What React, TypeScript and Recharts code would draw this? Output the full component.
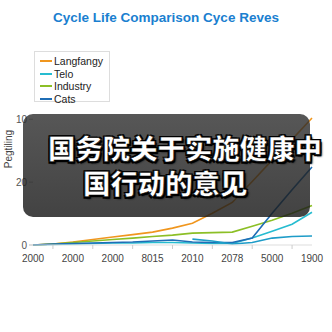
import { LineChart, Line, XAxis, YAxis, CartesianGrid } from "recharts";

// x categories (odd slots are unlabeled minor ticks)
const xLabels = [
  "2000", "", "2000", "", "2000", "", "8015", "",
  "2010", "", "2078", "", "5000", "", "1900",
];
const yTicks = [0, 10, 20];
const yTickLabels = ["0", "20", "10"];

const langfangy = [0, 0.16, 0.47, 0.87, 1.26, 1.65, 2.05, 2.68, 3.46, 5.04, 6.77, 10.1, 13.5, 16.8, 20.2];
const telo = [0, 0.08, 0.16, 0.24, 0.31, 0.31, 0.39, 0.39, 0.31, 0.24, 0.24, 1.1, 2.2, 3.3, 5.2];
const industry = [0, 0.16, 0.39, 0.63, 0.87, 1.1, 1.34, 1.57, 1.89, 1.97, 2.05, 2.99, 3.94, 5.04, 6.3];
const cats = [0, 0.16, 0.24, 0.31, 0.39, 0.47, 0.63, 0.79, 0.47, 0.39, 0.39, 1.1, 5.04, 8.8, 12.4];
const extra = [null, null, null, null, null, null, null, null, 0.94, 0.63, 0.16, 0.39, 1.1, 1.34, 1.42];

const series = [
  { key: "Langfangy", values: langfangy, color: "#f0961e" },
  { key: "Telo", values: telo, color: "#26bcd0" },
  { key: "Industry", values: industry, color: "#8cbf26" },
  { key: "Cats", values: cats, color: "#1f6db5" },
];

const data = xLabels.map((label, i) => {
  const row: any = { idx: i, label };
  series.forEach((s) => (row[s.key] = s.values[i]));
  row.Extra = extra[i];
  return row;
});

const XTick = (props: any) => {
  const { x, y, payload } = props;
  const label = xLabels[payload.index];
  if (!label) {
    return <line x1={x} y1={y - 8} x2={x} y2={y - 4} stroke="#ccc" />;
  }
  return (
    <text x={x} y={y} dy={9} textAnchor="middle" fontSize={10} fill="#444">
      {label}
    </text>
  );
};

const font = "'Liberation Sans', Arial, sans-serif";

export default function App() {
  return (
    <div
      style={{
        position: "absolute",
        left: 0,
        top: 0,
        width: 332,
        height: 332,
        background: "#fff",
        fontFamily: font,
      }}
    >
      <div
        style={{
          position: "absolute",
          top: 10,
          left: 0,
          width: 332,
          textAlign: "center",
          color: "#1a7fd0",
          fontWeight: "bold",
          fontSize: 13.5,
        }}
      >
        Cycle Life Comparison Cyce Reves
      </div>

      <LineChart
        width={332}
        height={332}
        data={data}
        margin={{ top: 118, right: 20, bottom: 57, left: 8 }}
      >
        <CartesianGrid horizontal={false} vertical={false} />
        <XAxis
          dataKey="idx"
          type="category"
          interval={0}
          height={30}
          tickLine={false}
          axisLine={{ stroke: "#ddd" }}
          tick={<XTick />}
        />
        <YAxis
          type="number"
          domain={[0, 20]}
          ticks={yTicks}
          width={25}
          axisLine={false}
          tickLine={{ stroke: "#bbb" }}
          tickSize={4}
          tick={{ fontSize: 10, fill: "#555" }}
          tickFormatter={(v: number) => yTickLabels[yTicks.indexOf(v)]}
        />
        {series.map((s) => (
          <Line
            key={s.key}
            dataKey={s.key}
            stroke={s.color}
            strokeWidth={1.6}
            dot={false}
            type="linear"
            isAnimationActive={false}
          />
        ))}
        <Line
          dataKey="Extra"
          stroke="#1e9cc8"
          strokeWidth={1.6}
          dot={false}
          type="linear"
          connectNulls={false}
          isAnimationActive={false}
        />
      </LineChart>

      {/* legend */}
      <div
        style={{
          position: "absolute",
          left: 34,
          top: 51,
          width: 76,
          height: 51,
          border: "1px solid #ddd",
          background: "#fff",
          padding: "3px 0 0 5px",
          boxSizing: "border-box",
        }}
      >
        {series.map((s) => (
          <div key={s.key} style={{ display: "flex", alignItems: "center", height: 12.5 }}>
            <div style={{ width: 12, height: 2, background: s.color, marginRight: 2 }} />
            <span style={{ fontSize: 10.5, color: "#222" }}>{s.key}</span>
          </div>
        ))}
      </div>

      {/* y-axis title */}
      <div
        style={{
          position: "absolute",
          left: 8,
          top: 149,
          transform: "translate(-50%, -50%) rotate(-90deg)",
          fontSize: 10,
          color: "#444",
          whiteSpace: "nowrap",
        }}
      >
        Pegtiling
      </div>

      {/* caption overlay */}
      <div
        style={{
          position: "absolute",
          left: 23,
          top: 114,
          width: 287,
          height: 103,
          borderRadius: 10,
          background: "linear-gradient(rgba(45,45,45,0.8), rgba(25,25,25,0.82))",
        }}
      />
      <div
        style={{
          position: "absolute",
          left: 48,
          top: 130,
          fontFamily: "'Noto Sans CJK SC', sans-serif",
          fontWeight: 900,
          fontSize: 27.4,
          lineHeight: "35px",
          color: "#fff",
          whiteSpace: "nowrap",
          WebkitTextStroke: "0.5px #000",
          textShadow:
            "1.5px 1.5px 0 #000, -1.5px -1.5px 0 #000, 1.5px -1.5px 0 #000, -1.5px 1.5px 0 #000, 2px 2px 2px #000",
        }}
      >
        <div>国务院关于实施健康中</div>
        <div style={{ paddingLeft: 35 }}>国行动的意见</div>
      </div>
    </div>
  );
}
